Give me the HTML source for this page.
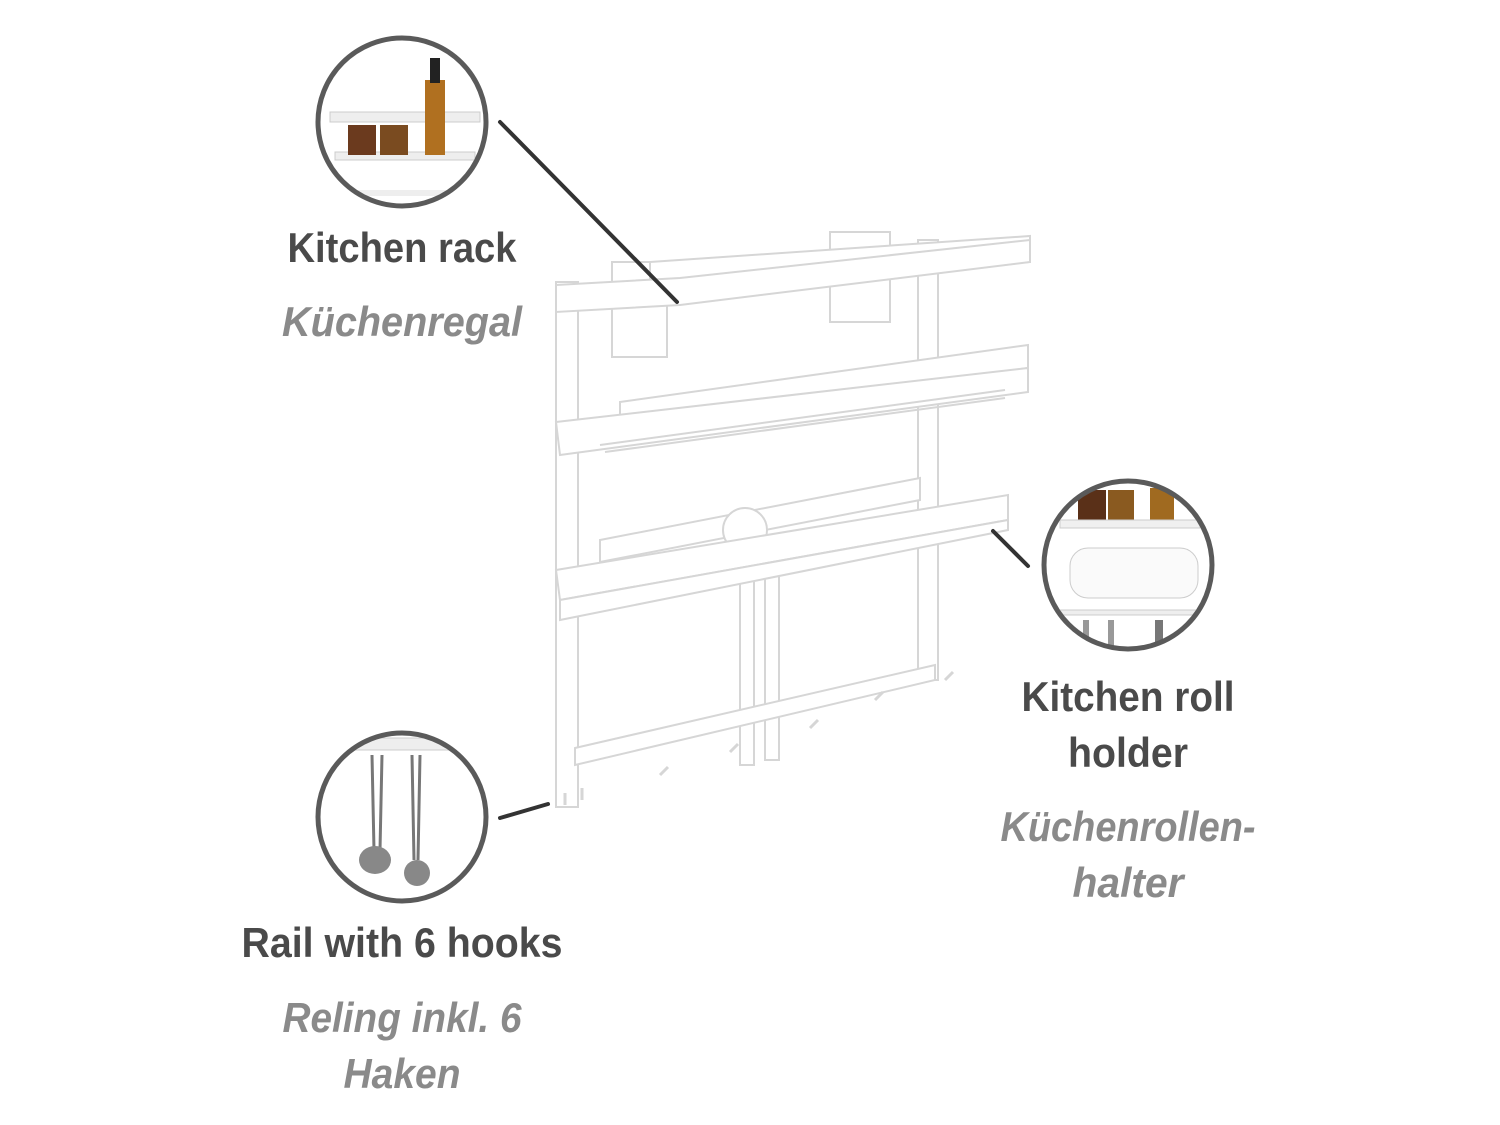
<!DOCTYPE html>
<html><head><meta charset="utf-8"><style>
html,body{margin:0;padding:0;background:#fff;}
svg{display:block}
.b{font-family:"Liberation Sans Narrow","Liberation Sans",sans-serif;font-weight:bold;font-size:42px;fill:#4a4a4a}
.i{font-family:"Liberation Sans Narrow","Liberation Sans",sans-serif;font-style:italic;font-weight:bold;font-size:42px;fill:#8a8a8a}
</style></head><body>
<svg width="1500" height="1125" viewBox="0 0 1500 1125" xmlns="http://www.w3.org/2000/svg">
<!-- product sketch -->
<g fill="#fff" stroke="#d6d6d6" stroke-width="2">
  <rect x="556" y="282" width="22" height="525"/>
  <rect x="918" y="240" width="20" height="440"/>
  <rect x="740" y="540" width="14" height="225"/>
  <rect x="765" y="535" width="14" height="225"/>
  <rect x="830" y="232" width="60" height="90"/>
  <rect x="612" y="262" width="55" height="95"/>
  <!-- top shelf -->
  <polygon points="650,262 1030,236 1030,262 650,288"/>
  <polygon points="556,285 680,278 1030,240 1030,262 680,305 556,312"/>
  <!-- middle shelf -->
  <polygon points="620,402 1028,345 1028,368 620,425"/>
  <polygon points="556,422 1028,368 1028,392 560,455"/>
  <line x1="600" y1="445" x2="1005" y2="390"/>
  <line x1="605" y1="452" x2="1005" y2="398"/>
  <!-- crossbar -->
  <polygon points="600,540 920,478 920,500 600,562"/>
  <circle cx="745" cy="530" r="22"/>
  <!-- rail -->
  <polygon points="556,570 1008,495 1008,520 560,600"/>
  <polygon points="560,600 1008,520 1008,530 560,620"/>
  <!-- bottom bar -->
  <polygon points="575,748 935,665 935,680 575,765"/>
  <g stroke-width="3">
    <path d="M565 805 l0 -12 M582 800 l0 -12"/>
    <path d="M660 775 l8 -8 M730 752 l8 -8 M810 728 l8 -8 M875 700 l8 -8 M945 680 l8 -8"/>
  </g>
</g>
<!-- connector lines -->
<g stroke="#333" stroke-width="4" stroke-linecap="round">
  <line x1="500" y1="122" x2="677" y2="302"/>
  <line x1="993" y1="531" x2="1028" y2="566"/>
  <line x1="500" y1="818" x2="548" y2="804"/>
</g>
<!-- circle 1 -->
<g>
  <clipPath id="c1"><circle cx="402" cy="122" r="84"/></clipPath>
  <g clip-path="url(#c1)">
    <rect x="320" y="40" width="170" height="170" fill="#fff"/>
    <rect x="330" y="112" width="150" height="10" fill="#eee" stroke="#ccc"/>
    <rect x="335" y="152" width="140" height="8" fill="#eee" stroke="#ccc"/>
    <rect x="348" y="125" width="28" height="30" fill="#6b3a1e"/>
    <rect x="380" y="125" width="28" height="30" fill="#7a4b20"/>
    <rect x="425" y="80" width="20" height="75" fill="#b07020"/>
    <rect x="430" y="58" width="10" height="25" fill="#222"/>
    <rect x="330" y="190" width="150" height="6" fill="#eee"/>
  </g>
  <circle cx="402" cy="122" r="84" fill="none" stroke="#5a5a5a" stroke-width="5"/>
</g>
<!-- circle 2 -->
<g>
  <clipPath id="c2"><circle cx="1128" cy="565" r="84"/></clipPath>
  <g clip-path="url(#c2)">
    <rect x="1040" y="480" width="180" height="180" fill="#fff"/>
    <rect x="1078" y="490" width="28" height="32" fill="#5a3018"/>
    <rect x="1108" y="490" width="26" height="32" fill="#8a5a20"/>
    <rect x="1150" y="488" width="24" height="34" fill="#a06a20"/>
    <rect x="1060" y="520" width="140" height="8" fill="#f0f0f0" stroke="#ccc"/>
    <rect x="1070" y="548" width="128" height="50" rx="18" fill="#fafafa" stroke="#ccc"/>
    <rect x="1060" y="610" width="140" height="5" fill="#eee" stroke="#ccc"/>
    <rect x="1083" y="620" width="6" height="40" fill="#999"/>
    <rect x="1108" y="620" width="6" height="40" fill="#999"/>
    <rect x="1155" y="620" width="8" height="40" fill="#777"/>
  </g>
  <circle cx="1128" cy="565" r="84" fill="none" stroke="#5a5a5a" stroke-width="5"/>
</g>
<!-- circle 3 -->
<g>
  <clipPath id="c3"><circle cx="402" cy="817" r="84"/></clipPath>
  <g clip-path="url(#c3)">
    <rect x="320" y="735" width="170" height="170" fill="#fff"/>
    <rect x="320" y="738" width="170" height="12" fill="#eee" stroke="#ccc"/>
    <path d="M372 755 L374 850 M382 755 L380 850 M412 755 L414 860 M420 755 L418 860" stroke="#777" stroke-width="3" fill="none"/>
    <ellipse cx="375" cy="860" rx="16" ry="14" fill="#888"/>
    <ellipse cx="417" cy="873" rx="13" ry="13" fill="#888"/>
  </g>
  <circle cx="402" cy="817" r="84" fill="none" stroke="#5a5a5a" stroke-width="5"/>
</g>
<!-- labels -->
<text class="b" x="402" y="262" text-anchor="middle" textLength="229" lengthAdjust="spacingAndGlyphs">Kitchen rack</text>
<text class="i" x="402" y="336" text-anchor="middle" textLength="240" lengthAdjust="spacingAndGlyphs">Küchenregal</text>
<text class="b" x="1128" y="711" text-anchor="middle" textLength="213" lengthAdjust="spacingAndGlyphs">Kitchen roll</text>
<text class="b" x="1128" y="767" text-anchor="middle" textLength="120" lengthAdjust="spacingAndGlyphs">holder</text>
<text class="i" x="1128" y="841" text-anchor="middle" textLength="255" lengthAdjust="spacingAndGlyphs">Küchenrollen-</text>
<text class="i" x="1128" y="897" text-anchor="middle" textLength="111" lengthAdjust="spacingAndGlyphs">halter</text>
<text class="b" x="402" y="957" text-anchor="middle" textLength="321" lengthAdjust="spacingAndGlyphs">Rail with 6 hooks</text>
<text class="i" x="402" y="1032" text-anchor="middle" textLength="239" lengthAdjust="spacingAndGlyphs">Reling inkl. 6</text>
<text class="i" x="402" y="1088" text-anchor="middle" textLength="117" lengthAdjust="spacingAndGlyphs">Haken</text>
</svg>
</body></html>
